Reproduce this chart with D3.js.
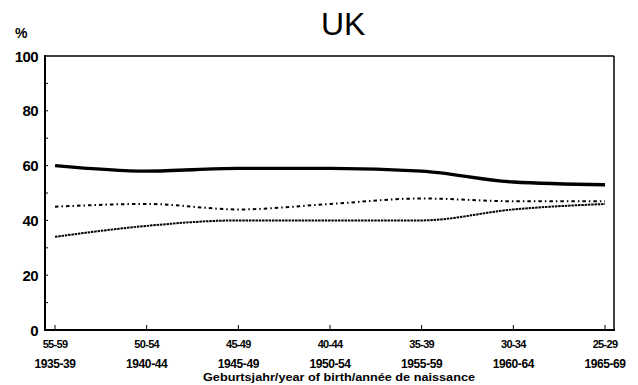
<!DOCTYPE html>
<html><head><meta charset="utf-8">
<script src="https://cdn.jsdelivr.net/npm/d3@7/dist/d3.min.js"></script>
<style>body{margin:0;background:#fff}svg{display:block}text{font-family:"Liberation Sans",Arial,sans-serif;fill:#000}</style>
</head><body><svg id="c" width="638" height="385"></svg>
<script>
const ageGroups = ["55-59","50-54","45-49","40-44","35-39","30-34","25-29"];
const birthYears = ["1935-39","1940-44","1945-49","1950-54","1955-59","1960-64","1965-69"];
const seriesSolid = [60, 58, 59, 59, 58, 54, 53];
const seriesDashDot = [45, 46, 44, 46, 48, 47, 47];
const seriesDotted = [34, 38, 40, 40, 40, 44, 46];
const yTicks = [0, 20, 40, 60, 80, 100];

const svg = d3.select("#c");
const L = 45, R = 614, T = 56, B = 330;
const x = d3.scalePoint().domain(ageGroups).range([55, 605]);
const y = d3.scaleLinear().domain([0, 100]).range([B, T]);

// frame
svg.append("line").attr("x1", L).attr("x2", R).attr("y1", T).attr("y2", T).attr("stroke", "#000").attr("stroke-width", 1.5);
svg.append("line").attr("x1", R).attr("x2", R).attr("y1", T).attr("y2", B).attr("stroke", "#000").attr("stroke-width", 1.5);
svg.append("line").attr("x1", L).attr("x2", L).attr("y1", T - 1).attr("y2", B + 1).attr("stroke", "#000").attr("stroke-width", 2);
svg.append("line").attr("x1", L - 1).attr("x2", R + 1).attr("y1", B).attr("y2", B).attr("stroke", "#000").attr("stroke-width", 2);

// y minor ticks every 10
svg.append("g").selectAll("line").data(d3.range(10, 100, 10)).join("line")
  .attr("x1", L).attr("x2", L + 3).attr("y1", d => y(d)).attr("y2", d => y(d))
  .attr("stroke", "#000").attr("stroke-width", 1);

// y labels
svg.append("g").selectAll("text").data(yTicks).join("text")
  .attr("x", 38).attr("y", d => y(d) + 5.5).attr("text-anchor", "end")
  .attr("font-size", 15).attr("font-weight", "bold").attr("letter-spacing", -0.6)
  .text(d => d);

// x ticks
svg.append("g").selectAll("line").data(ageGroups).join("line")
  .attr("x1", d => x(d)).attr("x2", d => x(d)).attr("y1", B).attr("y2", B - 5)
  .attr("stroke", "#000").attr("stroke-width", 1);

svg.append("g").selectAll("text").data(ageGroups).join("text")
  .attr("x", d => x(d)).attr("y", 348).attr("text-anchor", "middle")
  .attr("font-size", 11).attr("font-weight", "bold").attr("letter-spacing", -0.7)
  .text(d => d);

svg.append("g").selectAll("text").data(birthYears).join("text")
  .attr("x", (d, i) => x(ageGroups[i])).attr("y", 368).attr("text-anchor", "middle")
  .attr("font-size", 12).attr("font-weight", "bold").attr("letter-spacing", -0.4)
  .text(d => d);

svg.append("text").attr("x", 339).attr("y", 381).attr("text-anchor", "middle")
  .attr("font-size", 11).attr("font-weight", "bold")
  .attr("textLength", 272).attr("lengthAdjust", "spacingAndGlyphs")
  .text("Geburtsjahr/year of birth/année de naissance");

svg.append("text").attr("x", 15).attr("y", 38).attr("font-size", 14).attr("font-weight", "bold").text("%");
svg.append("text").attr("x", 321).attr("y", 35).attr("font-size", 32).text("UK");

const line = d3.line().x((d, i) => x(ageGroups[i])).y(d => y(d)).curve(d3.curveMonotoneX);
svg.append("path").attr("d", line(seriesSolid)).attr("fill", "none").attr("stroke", "#000").attr("stroke-width", 3.4);
svg.append("path").attr("d", line(seriesDashDot)).attr("fill", "none").attr("stroke", "#000").attr("stroke-width", 2).attr("stroke-dasharray", "3.5,3,1.5,3");
svg.append("path").attr("d", line(seriesDotted)).attr("fill", "none").attr("stroke", "#000").attr("stroke-width", 2).attr("stroke-dasharray", "2.5,0.8");
</script></body></html>
